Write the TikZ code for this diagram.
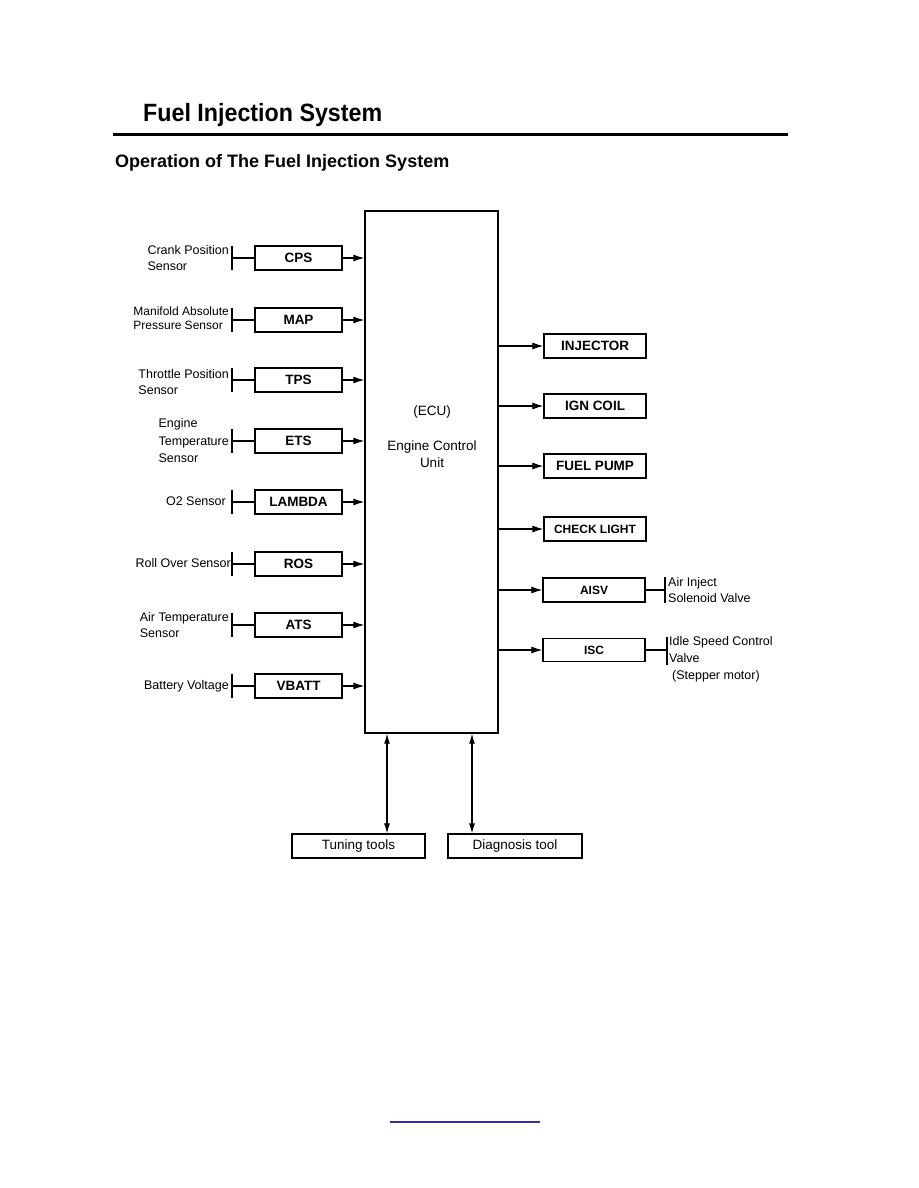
\documentclass[tikz,border=0pt]{standalone}
\usepackage{fontspec}
\setmainfont{Liberation Sans}
\usetikzlibrary{arrows.meta}
\tikzset{
  sbox/.style={draw, line width=1.3pt, minimum height=24pt, inner sep=0pt,
    font=\fontsize{13.5}{15}\selectfont\bfseries},
  lbox/.style={sbox, minimum width=87pt},
  rbox/.style={sbox, minimum width=102pt},
  tbox/.style={draw, line width=1.2pt, minimum height=24pt, inner sep=0pt,
    font=\fontsize{13.5}{15}\selectfont},
  lab/.style={inner sep=0pt, align=left, font=\fontsize{12.5}{16}\selectfont},
  tick/.style={line width=1.2pt},
  conn/.style={line width=1.1pt},
  arr/.style={line width=1.1pt, -{Latex[length=11pt,width=7pt]}},
  darr/.style={line width=1.1pt, {Latex[length=10pt,width=6pt]}-{Latex[length=10pt,width=6pt]}},
}
\begin{document}
\begin{tikzpicture}[x=1pt,y=-1pt]
\useasboundingbox (0,0) rectangle (918,1188);
% header
\node[anchor=base west, inner sep=0pt, font=\fontsize{25}{28}\selectfont\bfseries] (title) at (143,122) {\scalebox{0.93}[1]{Fuel Injection System}};
\draw[line width=3pt] (113,135) -- (788,135);
\node[anchor=base west, inner sep=0pt, font=\fontsize{18}{20}\selectfont\bfseries] (sub) at (115,167) {Operation of The Fuel Injection System};
% ECU
\node[draw, line width=1.4pt, minimum width=133pt, minimum height=522pt, inner sep=0pt] (ecu) at (431.5,472) {};
\node[font=\fontsize{13.5}{16}\selectfont, inner sep=0pt] (ecut) at (432,412) {(ECU)};
\node[font=\fontsize{13.5}{17}\selectfont, align=center, inner sep=0pt] (ecun) at (432,454) {Engine Control\\Unit};
% left sensors
\foreach \n/\t/\y in {cps/CPS/258, map/MAP/320, tps/TPS/380, ets/ETS/441, lam/LAMBDA/502, ros/ROS/564, ats/ATS/625, vb/VBATT/686}{
  \node[lbox] (\n) at (298.5,\y) {\t};
  \coordinate (\n t) at (232,\y);
  \draw[tick] (232,\y-12) -- (232,\y+12);
  \draw[conn] (\n t) -- (\n.west);
  \draw[arr] (\n.east) -- (\n.east -| ecu.west);
}
\node[lab, anchor=east] (lcps) at (229,258) {Crank Position\\Sensor};
\node[lab, anchor=east, font=\fontsize{12}{14.5}\selectfont] (lmap) at (229,318) {Manifold Absolute\\Pressure Sensor};
\node[lab, anchor=east] (ltps) at (229,382) {Throttle Position\\Sensor};
\node[lab, anchor=east, font=\fontsize{12.5}{17.5}\selectfont] (lets) at (229,441) {Engine\\Temperature\\Sensor};
\node[lab, anchor=east] (llam) at (226,501) {O2 Sensor};
\node[lab, anchor=east] (lros) at (231,563) {Roll Over Sensor};
\node[lab, anchor=east] (lats) at (229,625) {Air Temperature\\Sensor};
\node[lab, anchor=east] (lvb) at (229,686) {Battery Voltage};
% right actuators
\node[rbox] (inj) at (595,346) {INJECTOR};
\node[rbox] (ign) at (595,406) {IGN COIL};
\node[rbox] (fp) at (595,466) {FUEL PUMP};
\node[rbox, font=\fontsize{12}{14}\selectfont\bfseries] (chk) at (595,529) {CHECK LIGHT};
\node[rbox, font=\fontsize{12}{14}\selectfont\bfseries] (aisv) at (594,590) {AISV};
\node[rbox, font=\fontsize{12}{14}\selectfont\bfseries, minimum height=23pt] (isc) at (594,650) {ISC};
\foreach \n in {inj,ign,fp,chk,aisv,isc}{
  \draw[arr] (ecu.east |- \n.west) -- (\n.west);
}
\coordinate (at) at (665,590);
\draw[tick] (665,577) -- (665,603);
\draw[conn] (aisv.east) -- (at);
\node[lab, anchor=west, font=\fontsize{12.5}{16}\selectfont] (laisv) at (668,590) {Air Inject\\Solenoid Valve};
\coordinate (it) at (667,650);
\draw[tick] (667,637) -- (667,665);
\draw[conn] (isc.east) -- (it);
\node[lab, anchor=north west, font=\fontsize{12.5}{17}\selectfont] (lisc) at (669,636) {Idle Speed Control\\Valve\\\hspace{3pt}(Stepper motor)};
% bottom tools
\node[tbox, minimum width=133pt] (tune) at (358.5,846) {Tuning tools};
\node[tbox, minimum width=134pt] (diag) at (515,846) {Diagnosis tool};
\coordinate (c1) at (387,780);
\coordinate (c2) at (472,780);
\draw[darr] (ecu.south -| c1) -- (tune.north -| c1);
\draw[darr] (ecu.south -| c2) -- (diag.north -| c2);
% link underline
\draw[line width=1.5pt, color={rgb,255:red,60;green,40;blue,180}] (390,1122) -- (540,1122);
\end{tikzpicture}
\end{document}
